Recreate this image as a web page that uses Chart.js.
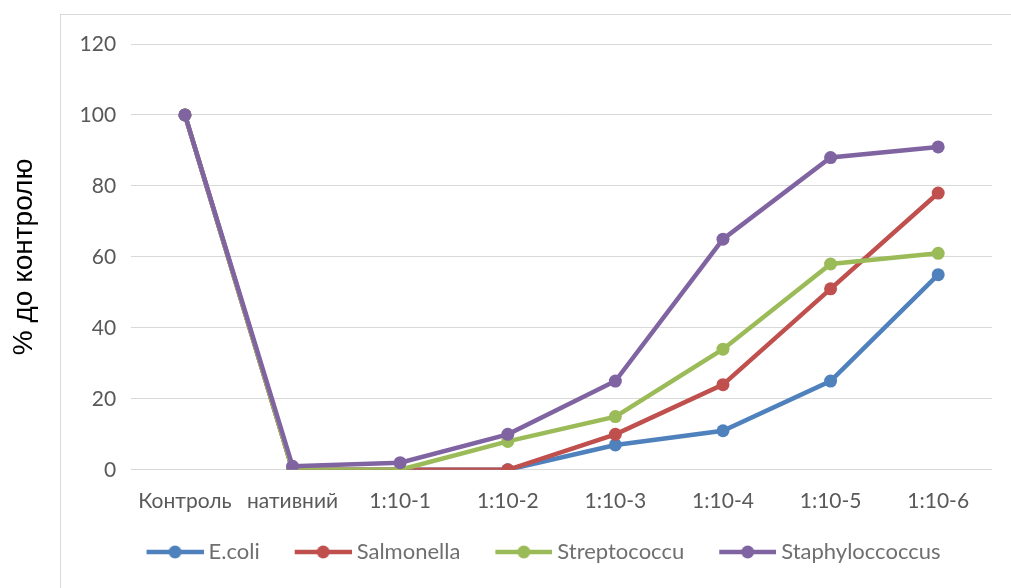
<!DOCTYPE html>
<html>
<head>
<meta charset="utf-8">
<script src="https://cdn.jsdelivr.net/npm/chart.js@4.4.1/dist/chart.umd.min.js"></script>
<style>
html,body{margin:0;padding:0;background:#fff;}
#wrap{position:relative;width:1011px;height:588px;overflow:hidden;}
</style>
</head>
<body>
<div id="wrap"><canvas id="c" width="1011" height="588"></canvas></div>
<script>
const categories = ['Контроль', 'нативний', '1:10-1', '1:10-2', '1:10-3', '1:10-4', '1:10-5', '1:10-6'];
const ecoli = [100, 0, 0, 0, 7, 11, 25, 55];
const salmonella = [100, 0, 0, 0, 10, 24, 51, 78];
const streptococcu = [100, 0, 0, 8, 15, 34, 58, 61];
const staphyloccoccus = [100, 1, 2, 10, 25, 65, 88, 91];
const yTicks = [0, 20, 40, 60, 80, 100, 120];
const yTitle = '% до контролю';

const seriesNames = ['E.coli', 'Salmonella', 'Streptococcu', 'Staphyloccoccus'];
const seriesData = [ecoli, salmonella, streptococcu, staphyloccoccus];
const colors = ['#4F81BD', '#C0504D', '#9BBB59', '#8064A2'];

function legendIcon(color){
  const cv = document.createElement('canvas');
  cv.width = 90; cv.height = 16;
  const g = cv.getContext('2d');
  g.strokeStyle = color; g.lineWidth = 4.5;
  g.beginPath(); g.moveTo(33, 8); g.lineTo(90, 8); g.stroke();
  g.fillStyle = color;
  g.beginPath(); g.arc(61.5, 8, 6.5, 0, Math.PI*2); g.fill();
  return cv;
}
const icons = colors.map(legendIcon);

const datasets = seriesNames.map((name, i) => ({
  label: name,
  data: seriesData[i],
  borderColor: colors[i],
  backgroundColor: colors[i],
  borderWidth: 4.5,
  pointRadius: 6.5,
  pointHoverRadius: 6.5,
  pointBorderWidth: 0,
  pointBackgroundColor: colors[i],
  tension: 0,
  fill: false,
  order: seriesNames.length - 1 - i
}));

const frame = {
  id: 'frame',
  beforeDraw(chart){
    const ctx = chart.ctx;
    ctx.save();
    ctx.fillStyle = '#fff';
    ctx.fillRect(0, 0, chart.width, chart.height);
    ctx.strokeStyle = '#d9d9d9';
    ctx.lineWidth = 1;
    ctx.strokeRect(60.5, 14.5, 1100, 700);
    ctx.restore();
  }
};
const legendShift = {
  id: 'legendShift',
  afterLayout(chart){
    const l = chart.legend;
    if (l) { l.left += 34; l.right += 34; }
  }
};

new Chart(document.getElementById('c'), {
  type: 'line',
  data: { labels: categories, datasets },
  plugins: [frame, legendShift],
  options: {
    responsive: false,
    devicePixelRatio: 1,
    animation: false,
    events: [],
    layout: { padding: { left: 0, right: 19, top: 44, bottom: 15 } },
    plugins: {
      tooltip: { enabled: false },
      legend: {
        position: 'bottom',
        labels: {
          usePointStyle: true,
          pointStyleWidth: 78,
          padding: 8,
          color: '#6f6f6f',
          font: { family: 'Lato', size: 22 },
          sort: (a, b) => a.datasetIndex - b.datasetIndex,
          generateLabels(chart){
            return chart.data.datasets.map((ds, i) => ({
              text: ds.label,
              fillStyle: ds.borderColor,
              strokeStyle: ds.borderColor,
              fontColor: '#6f6f6f',
              lineWidth: 0,
              pointStyle: icons[i],
              datasetIndex: i,
              hidden: false
            }));
          }
        }
      }
    },
    scales: {
      x: {
        offset: true,
        grid: { display: false, drawTicks: false },
        border: { display: false },
        ticks: { color: '#595959', font: { family: 'Lato', size: 21 }, padding: 19, maxRotation: 0, autoSkip: false }
      },
      y: {
        min: 0, max: 120,
        afterBuildTicks(scale){ scale.ticks = yTicks.map(v => ({ value: v })); },
        grid: { color: '#d9d9d9', lineWidth: 1, drawTicks: false },
        border: { display: false },
        ticks: { color: '#595959', font: { family: 'Lato', size: 21 }, padding: 15 },
        title: {
          display: true,
          text: yTitle,
          color: '#000',
          font: { family: 'Liberation Sans', size: 28 },
          padding: { top: 7, bottom: 24 }
        }
      }
    }
  }
});
</script>
</body>
</html>
